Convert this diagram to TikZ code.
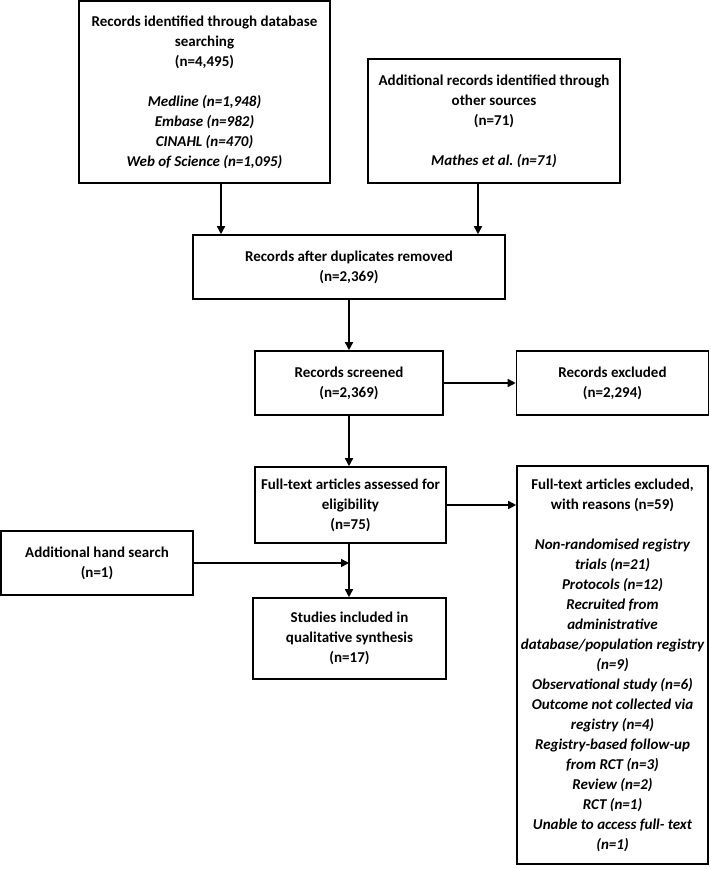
\documentclass[tikz,border=0pt]{standalone}
\usepackage{fontspec}
\setmainfont{Carlito}
\frenchspacing
\usetikzlibrary{arrows.meta}
\begin{document}
\begin{tikzpicture}[x=1pt,y=-1pt,
  box/.style={draw,line width=1.6pt,align=center,inner sep=0pt,font=\fontsize{15}{20}\selectfont\bfseries},
  arr/.style={line width=1.6pt,-{Triangle[length=8pt,width=8pt]}}]
\useasboundingbox (0,0) rectangle (710,869);
\node[box,minimum width=251pt,minimum height=182pt] (b1) at (204.5,92) {Records identified through database\\searching\\(n=4,495)\\[20pt]\itshape Medline (n=1,948)\\\itshape Embase (n=982)\\\itshape CINAHL (n=470)\\\itshape Web of Science (n=1,095)};
\node[box,minimum width=252pt,minimum height=124pt] (b2) at (494,121) {Additional records identified through\\other sources\\(n=71)\\[20pt]\itshape Mathes et al.\ (n=71)};
\node[box,minimum width=312pt,minimum height=64pt] (b3) at (349,267) {Records after duplicates removed\\(n=2,369)};
\node[box,minimum width=188pt,minimum height=64pt] (b4) at (349,383) {Records screened\\(n=2,369)};
\node[box,minimum width=192pt,minimum height=64pt] (b5) at (612.5,383) {Records excluded\\(n=2,294)};
\node[box,minimum width=191pt,minimum height=76pt] (b6) at (350.5,505) {Full-text articles assessed for\\eligibility\\(n=75)};
\node[box,minimum width=193pt,minimum height=81pt] (b7) at (349.5,638.5) {Studies included in\\qualitative synthesis\\(n=17)};
\node[box,minimum width=192pt,minimum height=64pt] (hs) at (97,563) {Additional hand search\\(n=1)};
\node[box,minimum width=191pt,minimum height=398pt] (ex) at (612.5,665) {Full-text articles excluded,\\with reasons (n=59)\\[20pt]\itshape Non-randomised registry\\\itshape trials (n=21)\\\itshape Protocols (n=12)\\\itshape Recruited from\\\itshape administrative\\\itshape database/population registry\\\itshape (n=9)\\\itshape Observational study (n=6)\\\itshape Outcome not collected via\\\itshape registry (n=4)\\\itshape Registry-based follow-up\\\itshape from RCT (n=3)\\\itshape Review (n=2)\\\itshape RCT (n=1)\\\itshape Unable to access full- text\\\itshape (n=1)};
\coordinate (c1) at (221,0);
\coordinate (c2) at (478,0);
\coordinate (cm) at (349,0);
\draw[arr] (b1.south -| c1) -- (b3.north -| c1);
\draw[arr] (b2.south -| c2) -- (b3.north -| c2);
\draw[arr] (b3.south -| cm) -- (b4.north -| cm);
\draw[arr] (b4) -- (b5);
\draw[arr] (b4.south -| cm) -- (b6.north -| cm);
\draw[arr] (b6.east) -- (ex.west |- b6.east);
\draw[arr] (b6.south -| cm) -- (b7.north -| cm);
\draw[arr] (hs.east) -- (hs.east -| cm);
\end{tikzpicture}
\end{document}
